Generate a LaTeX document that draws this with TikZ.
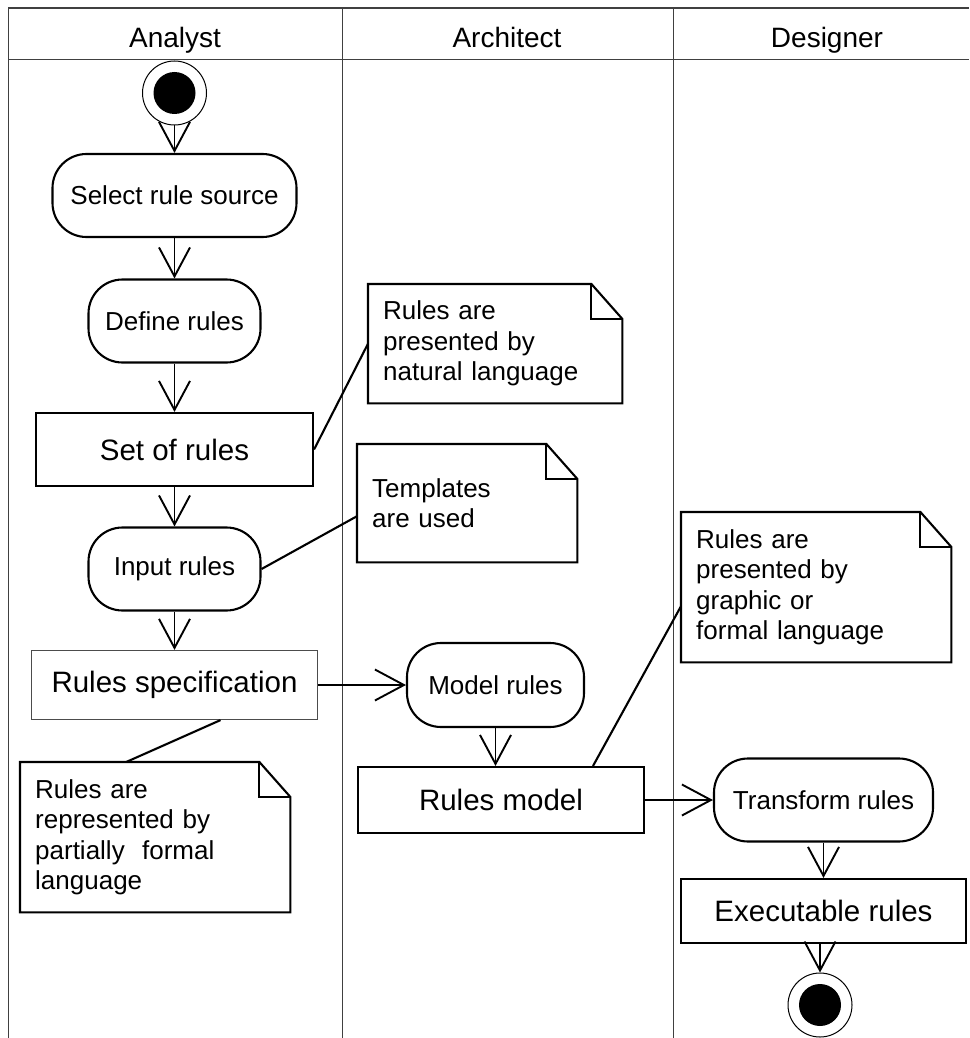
\documentclass[tikz,border=0pt]{standalone}
\usepackage{fontspec}
\setmainfont{Liberation Sans}
\usetikzlibrary{arrows.meta, positioning}

\begin{document}
\begin{tikzpicture}[
    x=1pt, y=-1pt,
    lane/.style={draw=black!75, line width=1pt},
    lanehead/.style={anchor=base, font=\fontsize{28}{32}\selectfont},
    action/.style={rectangle, rounded corners=34pt, draw, line width=2.1pt, align=center, minimum height=83pt, font=\fontsize{26}{30}\selectfont},
    objbox/.style={rectangle, draw, line width=2.1pt, align=center, font=\fontsize{29.5}{34}\selectfont},
    notebox/.style={rectangle, anchor=north west, align=left, inner xsep=15pt, font=\fontsize{26}{30.5}\selectfont},
    initial/.style={circle, draw, line width=1pt, minimum size=64pt, path picture={\fill (path picture bounding box.center) circle (21pt);}},
    flow/.style={-{Straight Barb[length=29pt, width=31pt, line width=1.9pt]}, line width=1.9pt},
    link/.style={line width=2.1pt}
  ]

    \useasboundingbox (0,0) rectangle (969,1038);

    % swimlanes
    \draw[lane, line width=1.5pt] (8,8) -- (969,8);
    \draw[lane] (8,60) -- (969,60);
    \draw[lane] (8,8) -- (8,1038);
    \draw[lane] (342,8) -- (342,1038);
    \draw[lane] (673,8) -- (673,1038);
    \node[lanehead] (hana) at (175,48) {Analyst};
    \node[lanehead] (harc) at (507,48) {Architect};
    \node[lanehead] (hdes) at (827,48) {Designer};

    % analyst
    \node[initial] (start) at (174.5,93) {};
    \node[action, minimum width=244pt] (select) at (174.5,195.5) {Select rule source};
    \node[action, minimum width=172pt] (define) at (174.5,321) {Define rules};
    \node[objbox, minimum width=277pt, minimum height=73pt] (set) at (174.5,449.5) {Set of rules};
    \node[action, minimum width=172pt] (input) at (174.5,569) {Input rules};
    \node[objbox, draw=black!70, line width=1.2pt, minimum width=286pt, minimum height=69pt] (spec) at (174.5,685) {Rules specification};

    % architect
    \node[action, minimum width=177pt, minimum height=84pt] (mrules) at (495.5,685) {Model rules};
    \node[objbox, minimum width=286pt, minimum height=66pt] (rmodel) at (501,800) {Rules model};

    % designer
    \node[action, minimum width=219pt] (transform) at (823.5,800) {Transform rules};
    \node[objbox, minimum width=285pt, minimum height=64pt] (exec) at (823.5,911) {Executable rules};
    \node[initial] (stop) at (820,1005) {};

    % notes
    \node[notebox, text width=224pt, minimum height=119pt] (nnat) at (368,284) {Rules are\\presented by\\natural language};
    \node[notebox, text width=190pt, minimum height=118pt] (ntmp) at (357,444) {Templates\\are used};
    \node[notebox, text width=240pt, minimum height=150pt] (ngra) at (681,512) {Rules are\\presented by\\graphic or\\formal language};
    \node[notebox, text width=240pt, minimum height=150pt] (nfor) at (20,762) {Rules are\\represented by\\partially\ \ formal\\language};
    \foreach \n in {nnat, ntmp, ngra, nfor} {
      \draw[link] (\n.north west) -- ([xshift=-31pt]\n.north east) -- ([yshift=-35pt]\n.north east) -- (\n.south east) -- (\n.south west) -- cycle;
      \draw[link] ([xshift=-31pt]\n.north east) |- ([yshift=-35pt]\n.north east);
    }

    % control flow
    \draw[flow] (start) -- (select);
    \draw[flow] (select) -- (define);
    \draw[flow] (define) -- (set);
    \draw[flow] (set) -- (input);
    \draw[flow] (input) -- (spec);
    \draw[flow] (spec) -- (mrules);
    \draw[flow] (mrules.south) -- (mrules.south |- rmodel.north);
    \draw[flow] (rmodel) -- (transform);
    \draw[flow] (transform) -- (exec);
    \draw[flow] (exec.south -| stop) -- (stop);

    % note links
    \draw[link] (set.east) -- (nnat.west);
    \draw[link] (input.east) -- ([yshift=-13pt]ntmp.west);
    \draw[link] ([xshift=46pt]spec.south) -- ([xshift=-29pt]nfor.north);
    \draw[link] ([xshift=92pt]rmodel.north) -- ([yshift=-19pt]ngra.west);

  \end{tikzpicture}
\end{document}
